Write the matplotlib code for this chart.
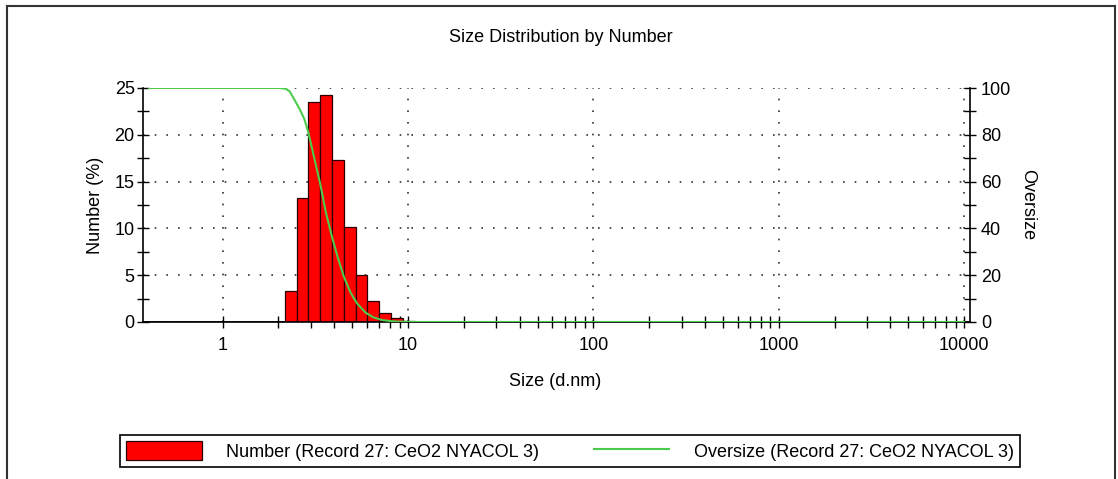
import matplotlib.pyplot as plt
import matplotlib.ticker as ticker
from matplotlib.lines import Line2D
import numpy as np

plt.rcParams['font.family'] = ['Liberation Sans', 'DejaVu Sans']
plt.rcParams['font.size'] = 13

################################################################################
# Data.                                                                        #
################################################################################

# Size classes (d.nm) and number distribution (%).
size_nm = [2.328, 2.696, 3.122, 3.615, 4.187, 4.849, 5.615, 6.503, 7.531, 8.721, 10.1]
number_pct = [3.3, 13.2, 23.5, 24.3, 17.3, 10.1, 5.0, 2.2, 0.95, 0.4, 0.1]

# Oversize curve (%).
over_size = [0.4, 2.05, 2.2, 2.3, 2.42, 2.6, 2.75, 2.9, 3.1, 3.36, 3.6, 3.9, 4.2,
             4.5, 4.9, 5.3, 5.9, 6.5, 7.2, 8.0, 9.0, 10.5, 10000]
over_pct = [100, 100, 99.6, 98.5, 95.5, 91, 87, 81, 71, 59, 47, 36, 27,
            19.5, 12.5, 8, 4, 2, 0.9, 0.4, 0.15, 0, 0]

label_number = 'Number (Record 27: CeO2 NYACOL 3)'
label_over = 'Oversize (Record 27: CeO2 NYACOL 3)'

# Class width ratio for log-spaced bins.
ratio = 1.1582
half = np.sqrt(ratio)
size_nm = np.array(size_nm)
left = size_nm / half
width = size_nm * half - left

################################################################################
# Plot.                                                                        #
################################################################################

fig = plt.figure(figsize=(11.18, 4.79), dpi=100)
ax = fig.add_axes([143/1118, 1 - 322/479, 827/1118, 234/479])
ax2 = ax.twinx()

bars = ax.bar(left, number_pct, width=width, align='edge', color='#ff0000',
              edgecolor='#2a0000', linewidth=0.9, zorder=2)
line, = ax2.plot(over_size, over_pct, color='#4ccc4c', lw=1.5)

# Axes ranges and scales.
ax.set_xscale('log')
ax.set_xlim(0.4/half, 10000*half)
ax.set_ylim(0, 25)
ax2.set_ylim(0, 100)

ax.set_xticks([1, 10, 100, 1000, 10000])
ax.set_xticklabels(['1', '10', '100', '1000', '10000'])
minor = [m*10**e for e in range(0, 4) for m in range(2, 10)]
ax.xaxis.set_minor_locator(ticker.FixedLocator(minor))
ax.xaxis.set_minor_formatter(ticker.NullFormatter())
ax.set_yticks(np.arange(0, 26, 5))
ax.yaxis.set_minor_locator(ticker.MultipleLocator(2.5))
ax2.set_yticks(np.arange(0, 101, 20))
ax2.yaxis.set_minor_locator(ticker.MultipleLocator(10))

ax.tick_params(axis='both', which='both', direction='inout', length=8, width=1)
ax.tick_params(axis='x', which='both', pad=7)
ax.tick_params(axis='y', which='both', pad=2)
ax2.tick_params(axis='y', which='both', direction='inout', length=8, width=1, pad=4)

# Spines.
for s in ['top', 'right']:
    ax.spines[s].set_visible(False)
for s in ['top', 'left', 'bottom']:
    ax2.spines[s].set_visible(False)
ax.spines['bottom'].set_zorder(5)
ax.spines['bottom'].set_linewidth(1.2)
ax.spines['left'].set_linewidth(1.2)
ax2.spines['right'].set_linewidth(1.2)

# Dotted grid.
ax.grid(True, which='major', linestyle=(0, (1, 6)), color='#333333', lw=1.2)
ax.set_axisbelow(True)
ax.axhline(0, color='black', lw=1.2, zorder=1)

# Labels.
fig.text(561/1118, 1 - 38/479, 'Size Distribution by Number', ha='center', va='center')
fig.text(555/1118, 1 - 381/479, 'Size (d.nm)', ha='center', va='center')
fig.text(95/1118, 1 - 205/479, 'Number (%)', ha='center', va='center', rotation=90)
fig.text(1028/1118, 1 - 205/479, 'Oversize', ha='center', va='center', rotation=270)

# Legend.
leg = fig.legend([bars, line], [label_number, label_over], ncol=2, loc='center',
                 bbox_to_anchor=(570/1118, 1 - 451/479),
                 fancybox=False, edgecolor='black', framealpha=1, handlelength=4.2,
                 handleheight=1.2, borderpad=0.35, borderaxespad=0, handletextpad=1.35,
                 columnspacing=3.0)
leg.get_frame().set_linewidth(1.2)

# Outer frame.
for xs, ys in [([7, 1115], [6, 6]), ([7, 7], [6, 479]), ([1115, 1115], [6, 479])]:
    fig.add_artist(Line2D([x/1118 for x in xs], [1 - y/479 for y in ys],
                          color='#333333', lw=1.5))

# Save figure.
fig.savefig('out.png', dpi=100)
plt.close()
